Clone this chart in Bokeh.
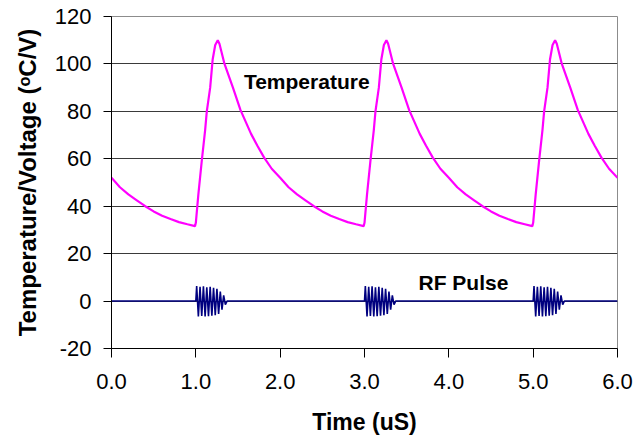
from bokeh.plotting import figure
from bokeh.models import FixedTicker, Label, Range1d
from bokeh.embed import file_html
from bokeh.resources import INLINE

# Temperature trace
time_us = [
    0.00, 0.10, 0.20, 0.30, 0.40, 0.50, 0.60, 0.70, 0.80, 0.90, 0.99,
    1.00, 1.03, 1.07, 1.11, 1.13, 1.17, 1.20, 1.23, 1.26, 1.28, 1.34, 1.44,
    1.53, 1.655, 1.73, 1.81, 1.90,
    2.00, 2.10, 2.20, 2.30, 2.40, 2.50, 2.60, 2.70, 2.80, 2.90, 2.99,
    3.00, 3.03, 3.07, 3.11, 3.13, 3.17, 3.20, 3.23, 3.26, 3.28, 3.34, 3.44,
    3.53, 3.655, 3.73, 3.81, 3.90,
    4.00, 4.10, 4.20, 4.30, 4.40, 4.50, 4.60, 4.70, 4.80, 4.90, 4.99,
    5.00, 5.03, 5.07, 5.11, 5.13, 5.17, 5.20, 5.23, 5.26, 5.28, 5.34, 5.44,
    5.53, 5.655, 5.73, 5.81, 5.90, 6.00,
]
temperature = [
    52.0, 48.0, 45.0, 42.5, 40.0, 37.8, 36.0, 34.6, 33.3, 32.4, 31.6,
    33.0, 45.0, 59.0, 72.0, 80.0, 90.0, 102.0, 108.0, 110.0, 108.5, 100.0, 90.0,
    80.5, 70.5, 65.5, 60.5, 55.8,
    52.0, 48.0, 45.0, 42.5, 40.0, 37.8, 36.0, 34.6, 33.3, 32.4, 31.6,
    33.0, 45.0, 59.0, 72.0, 80.0, 90.0, 102.0, 108.0, 110.0, 108.5, 100.0, 90.0,
    80.5, 70.5, 65.5, 60.5, 55.8,
    52.0, 48.0, 45.0, 42.5, 40.0, 37.8, 36.0, 34.6, 33.3, 32.4, 31.6,
    33.0, 45.0, 59.0, 72.0, 80.0, 90.0, 102.0, 108.0, 110.0, 108.5, 100.0, 90.0,
    80.5, 70.5, 65.5, 60.5, 55.8, 52.0,
]

# RF pulse trace
rf_time = [
    0.00, 1.00,
    1.01, 1.03, 1.05, 1.07, 1.09, 1.11, 1.13, 1.15, 1.17, 1.19, 1.21, 1.23,
    1.25, 1.27, 1.29, 1.31, 1.33, 1.35, 1.37,
    3.00,
    3.01, 3.03, 3.05, 3.07, 3.09, 3.11, 3.13, 3.15, 3.17, 3.19, 3.21, 3.23,
    3.25, 3.27, 3.29, 3.31, 3.33, 3.35, 3.37,
    5.00,
    5.01, 5.03, 5.05, 5.07, 5.09, 5.11, 5.13, 5.15, 5.17, 5.19, 5.21, 5.23,
    5.25, 5.27, 5.29, 5.31, 5.33, 5.35, 5.37,
    6.00,
]
rf_voltage = [
    0.0, 0.0,
    6.3, -6.5, 6.0, -6.3, 6.2, -6.5, 5.8, -6.4, 6.0, -6.2, 5.6, -6.0,
    5.2, -5.4, 4.0, -3.6, 2.4, -1.5, 0.0,
    0.0,
    6.3, -6.5, 6.0, -6.3, 6.2, -6.5, 5.8, -6.4, 6.0, -6.2, 5.6, -6.0,
    5.2, -5.4, 4.0, -3.6, 2.4, -1.5, 0.0,
    0.0,
    6.3, -6.5, 6.0, -6.3, 6.2, -6.5, 5.8, -6.4, 6.0, -6.2, 5.6, -6.0,
    5.2, -5.4, 4.0, -3.6, 2.4, -1.5, 0.0,
    0.0,
]

x_ticks = [0, 1, 2, 3, 4, 5, 6]
x_tick_labels = ["0.0", "1.0", "2.0", "3.0", "4.0", "5.0", "6.0"]
y_ticks = [-20, 0, 20, 40, 60, 80, 100, 120]
y_tick_labels = ["-20", "0", "20", "40", "60", "80", "100", "120"]
grid_ticks = [0, 20, 40, 60, 80, 100]

FONT = "Liberation Sans"

p = figure(width=638, height=439, output_backend="svg", toolbar_location=None,
           x_range=Range1d(0, 6), y_range=Range1d(-20, 120),
           min_border_left=111, min_border_right=21,
           min_border_top=16, min_border_bottom=91)
p.background_fill_color = "white"
p.border_fill_color = "white"
p.outline_line_color = "#8c8c8c"
p.outline_line_width = 1

p.xgrid.visible = False
p.ygrid.ticker = FixedTicker(ticks=grid_ticks)
p.ygrid.grid_line_color = "#3a3a3a"
p.ygrid.grid_line_width = 1

p.xaxis.ticker = FixedTicker(ticks=x_ticks)
p.xaxis.major_label_overrides = {t: l for t, l in zip(x_ticks, x_tick_labels)}
p.yaxis.ticker = FixedTicker(ticks=y_ticks)
p.yaxis.major_label_overrides = {t: l for t, l in zip(y_ticks, y_tick_labels)}

for ax in (p.xaxis[0], p.yaxis[0]):
    ax.axis_line_color = "black"
    ax.axis_line_width = 1
    ax.major_tick_line_color = "black"
    ax.major_tick_in = 0
    ax.minor_tick_line_color = None
    ax.major_label_text_font = FONT
    ax.major_label_text_font_size = "22px"
    ax.major_label_text_color = "black"
    ax.axis_label_text_font = FONT
    ax.axis_label_text_font_style = "bold"
    ax.axis_label_text_color = "black"

p.xaxis.major_tick_out = 9
p.xaxis.major_label_standoff = 16
p.xaxis.axis_label = "Time (uS)"
p.xaxis.axis_label_text_font_size = "23px"
p.xaxis.axis_label_standoff = 17

p.yaxis.major_tick_out = 8
p.yaxis.major_label_standoff = 12
p.yaxis.axis_label = "Temperature/Voltage (\u1d52C/V)"
p.yaxis.axis_label_text_font_size = "24px"
p.yaxis.axis_label_standoff = 11

p.line(rf_time, rf_voltage, line_color="#000080", line_width=1.6)
p.line(time_us, temperature, line_color="#ff00ff", line_width=2.2)

p.add_layout(Label(x=1.57, y=92.5, text="Temperature", text_font=FONT,
                   text_font_style="bold", text_font_size="21px",
                   text_color="black", text_baseline="middle", text_align="left"))
p.add_layout(Label(x=3.64, y=7.8, text="RF Pulse", text_font=FONT,
                   text_font_style="bold", text_font_size="21px",
                   text_color="black", text_baseline="middle", text_align="left"))

open("out.html", "w").write(file_html(p, INLINE))
